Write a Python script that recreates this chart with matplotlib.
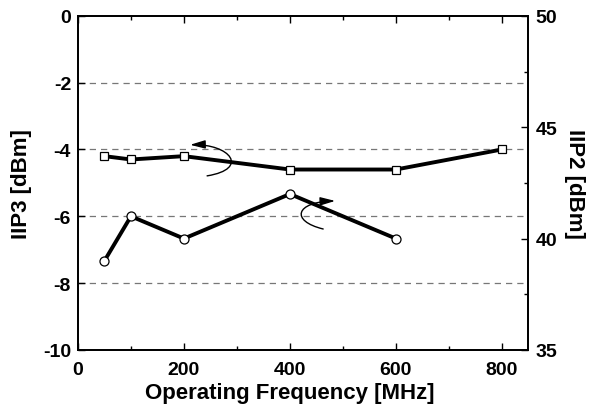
import matplotlib
matplotlib.use("Agg")
import matplotlib.pyplot as plt
from matplotlib.ticker import MultipleLocator
from matplotlib.patches import FancyArrowPatch
from matplotlib.path import Path

plt.rcParams['font.family'] = ['Liberation Sans', 'DejaVu Sans']
plt.rcParams['font.weight'] = 'bold'
plt.rcParams['axes.unicode_minus'] = False

freq_iip3 = [50, 100, 200, 400, 600, 800]
iip3 = [-4.2, -4.3, -4.2, -4.6, -4.6, -4.0]
freq_iip2 = [50, 100, 200, 400, 600]
iip2 = [39, 41, 40, 42, 40]

fig = plt.figure(figsize=(5.95, 4.10), dpi=100)
ax = fig.add_axes([0.131, 0.144, 0.757, 0.815])
ax2 = ax.twinx()

ax.set_xlim(0, 850)
ax.set_ylim(-10, 0)
ax2.set_ylim(35, 50)

for y in [-2, -4, -6, -8]:
    ax.axhline(y, color='#777777', lw=0.9, ls=(0, (5, 4)), zorder=0)

ax.plot(freq_iip3, iip3, color='black', lw=2.8, marker='s', ms=5.5,
        mfc='white', mec='black', mew=0.9, zorder=3)
ax2.plot(freq_iip2, iip2, color='black', lw=2.8, marker='o', ms=6.5,
         mfc='white', mec='black', mew=0.9, zorder=3)

ax.xaxis.set_major_locator(MultipleLocator(200))
ax.xaxis.set_minor_locator(MultipleLocator(100))
ax.yaxis.set_major_locator(MultipleLocator(2))
ax2.yaxis.set_major_locator(MultipleLocator(5))
ax2.yaxis.set_minor_locator(MultipleLocator(2.5))

ax.tick_params(axis='x', which='major', direction='in', length=5, width=1, top=True, labelsize=14, pad=8)
ax.tick_params(axis='x', which='minor', direction='in', length=3, width=1, top=True)
ax.tick_params(axis='y', which='major', direction='in', length=5, width=1, labelsize=14, pad=5)
ax2.tick_params(axis='y', which='major', direction='in', length=5, width=1, labelsize=14, pad=5)
ax2.tick_params(axis='y', which='minor', direction='in', length=3, width=1)

for a in (ax, ax2):
    for s in a.spines.values():
        s.set_linewidth(1.3)

ax.set_xlabel('Operating Frequency [MHz]', fontsize=16, fontweight='bold', labelpad=5)
ax.xaxis.set_label_coords(0.47, -0.095, transform=ax.transAxes)
ax.xaxis.label.set_va('top')
ax.set_ylabel('IIP3 [dBm]', fontsize=16, fontweight='bold', labelpad=8)
ax2.set_ylabel('IIP2 [dBm]', fontsize=16, fontweight='bold', rotation=270, labelpad=20)

# curved arrows indicating the axis for each curve (data coords of left axis)
codes = [Path.MOVETO, Path.CURVE4, Path.CURVE4, Path.CURVE4]
arrow1 = Path([(243.7, -4.79), (324.9, -4.58), (287.1, -3.83), (211.6, -3.86)], codes)
arrow2 = Path([(462.8, -6.38), (400.5, -6.14), (409.9, -5.57), (485.5, -5.54)], codes)
for p in (arrow1, arrow2):
    ax.add_patch(FancyArrowPatch(path=p, arrowstyle='-|>,head_length=0.9,head_width=0.25',
                                 mutation_scale=10, color='black', lw=1.0,
                                 transform=ax.transData, zorder=4))

fig.savefig('out.png', dpi=100)
